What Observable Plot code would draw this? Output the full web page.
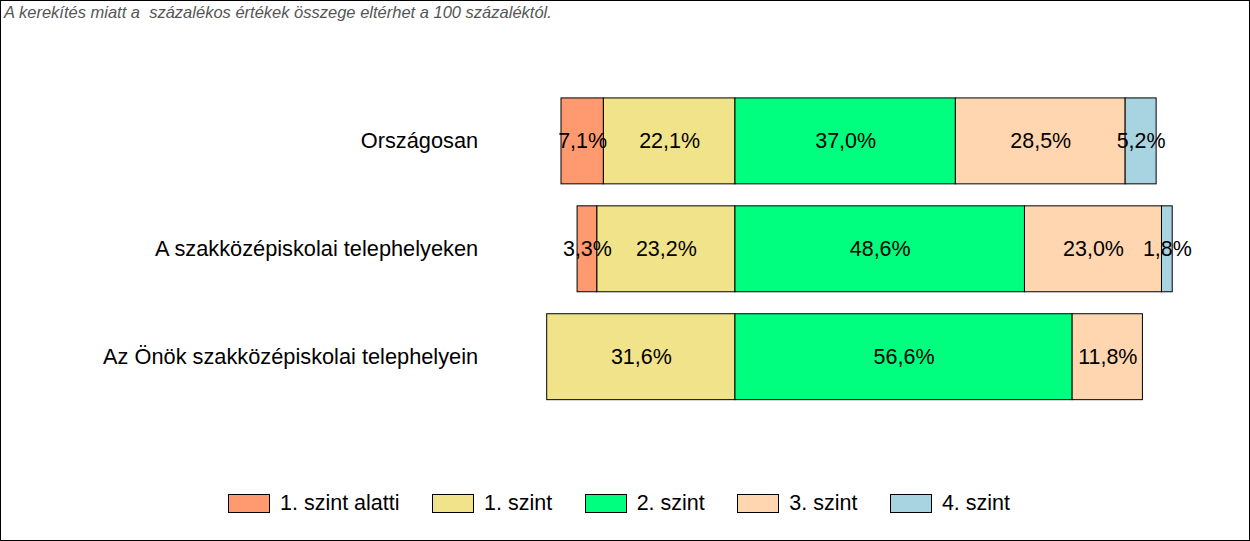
<!DOCTYPE html>
<html>
<head>
<meta charset="utf-8">
<script src="https://cdn.jsdelivr.net/npm/d3@7"></script>
<script src="https://cdn.jsdelivr.net/npm/@observablehq/plot@0.6"></script>
<style>
  body { margin: 0; background: white; }
  #frame { position: relative; width: 1250px; height: 541px; box-sizing: border-box; border: 1px solid #000; background: #fff; overflow: hidden; font-family: "Liberation Sans", Arial, sans-serif; }
  #note { position: absolute; left: 3px; top: 2px; font-style: italic; font-size: 16.5px; color: #555; white-space: pre; }
  #chart { position: absolute; left: -1px; top: -1px; }
  #legend { position: absolute; left: 227px; top: 490px; display: flex; align-items: center; font-size: 21.5px; color: #000; }
  .item { display: flex; align-items: center; margin-right: 32.5px; }
  .sw { width: 42px; height: 19px; box-sizing: border-box; border: 1px solid #000; margin-right: 10px; }
</style>
</head>
<body>
<div id="frame">
  <div id="note">A kerekítés miatt a  százalékos értékek összege eltérhet a 100 százaléktól.</div>
  <div id="chart"></div>
  <div id="legend"></div>
</div>
<script>
const categories = ["Országosan", "A szakközépiskolai telephelyeken", "Az Önök szakközépiskolai telephelyein"];
const levels = ["1. szint alatti", "1. szint", "2. szint", "3. szint", "4. szint"];
const colors = ["#FF9970", "#F0E38A", "#00FF7F", "#FFD6B0", "#A8D4E2"];
const below1 = [7.1, 3.3, 0];
const level1 = [22.1, 23.2, 31.6];
const level2 = [37.0, 48.6, 56.6];
const level3 = [28.5, 23.0, 11.8];
const level4 = [5.2, 1.8, 0];

// negative side: level 1 next to zero, then below level 1
const seriesOrder = [
  ["1. szint", level1, -1],
  ["1. szint alatti", below1, -1],
  ["2. szint", level2, 1],
  ["3. szint", level3, 1],
  ["4. szint", level4, 1]
];
const rows = [];
categories.forEach((c, i) => {
  seriesOrder.forEach(([lvl, arr, sign]) => {
    if (arr[i] > 0) rows.push({cat: c, level: lvl, value: sign * arr[i], abs: arr[i]});
  });
});
const fmt = v => v.toFixed(1).replace(".", ",") + "%";

const chart = Plot.plot({
  width: 1250,
  height: 470,
  marginLeft: 480,
  marginRight: 50,
  marginTop: 76,
  marginBottom: 48,
  style: {fontFamily: "'Liberation Sans', Arial, sans-serif", background: "transparent", color: "#000"},
  x: {domain: [-42.86, 77.9], axis: null},
  y: {domain: categories, padding: 0.2, label: null},
  color: {domain: levels, range: colors},
  marks: [
    Plot.axisY({tickSize: 0, tickPadding: 2, fontSize: 21.8, label: null}),
    Plot.barX(rows, Plot.stackX({y: "cat", x: "value", fill: "level", stroke: "#000", strokeWidth: 1, order: null})),
    Plot.text(rows, Plot.stackX({y: "cat", x: "value", text: d => fmt(d.abs), fontSize: 21.5, fill: "#000", order: null}))
  ]
});
document.getElementById("chart").appendChild(chart);

const legend = document.getElementById("legend");
levels.forEach((l, i) => {
  const item = document.createElement("div");
  item.className = "item";
  const sw = document.createElement("div");
  sw.className = "sw";
  sw.style.background = colors[i];
  const t = document.createElement("span");
  t.textContent = l;
  item.appendChild(sw);
  item.appendChild(t);
  legend.appendChild(item);
});
</script>
</body>
</html>
